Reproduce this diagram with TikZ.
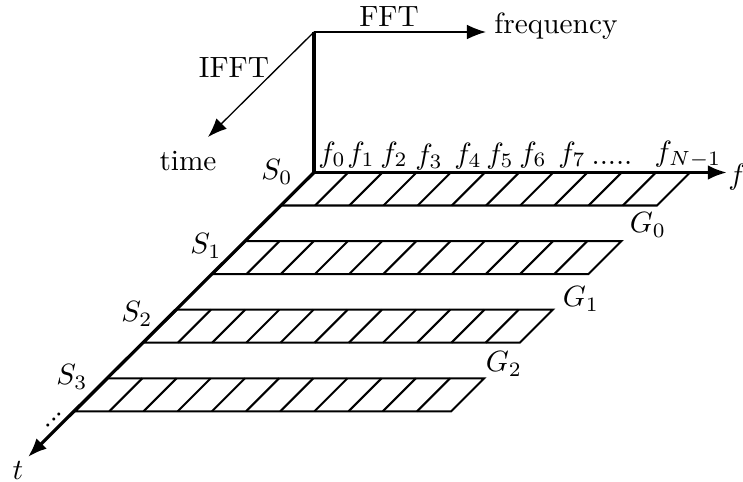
\documentclass[tikz,border=0pt]{standalone}
\usetikzlibrary{arrows.meta}
\begin{document}
\begin{tikzpicture}[x=0.012cm,y=-0.012cm,
  axis/.style={line width=1.1pt,-{Latex[length=6.5pt,width=5pt]}},
  thinarrow/.style={line width=0.45pt,-{Latex[length=6.5pt,width=5pt]}},
  stripline/.style={line width=0.7pt},
  lbl/.style={inner sep=0pt}]
\useasboundingbox (0,0) rectangle (743,482);
% coordinates
\coordinate (O) at (314,32);
\coordinate (O2) at (314,172.5);
\coordinate (fftend) at (486,32);
\coordinate (ifftend) at (208,137);
\coordinate (fend) at (727,172.5);
\coordinate (tend) at (28,457);
% strips
\foreach \k in {0,...,3}{
  \begin{scope}[shift={(-68.6*\k,68.6*\k)}]
    \draw[stripline] (314,172.5) -- ++(376,0) -- ++(-33,33) -- ++(-376,0) -- cycle;
    \foreach \i in {1,...,10}{
      \draw[stripline] (281+\i*34.18,205.5) -- ++(33,-33);
    }
  \end{scope}
}
% axes
\draw[line width=1.1pt] (O) -- (O2);
\draw[thinarrow] (O) -- (fftend);
\draw[thinarrow] (O) -- (ifftend);
\draw[axis] (O2) -- (fend);
\draw[axis] (O2) -- (tend);
% top labels
\node[lbl] (fft) at (389,17) {FFT};
\node[lbl] (ifft) at (234,67) {IFFT};
\node[lbl] (freq) at (556,26) {frequency};
\node[lbl] (time) at (188,161) {time};
% axis labels
\node[lbl] (flab) at (737,177) {$f$};
\node[lbl] (tlab) at (18,470) {$t$};
\node[lbl,rotate=45] (tdots) at (54,420) {...};
% frequency labels
\node[lbl,anchor=base] (f0) at (332,162) {$f_0$};
\node[lbl,anchor=base] (f1) at (361,162) {$f_1$};
\node[lbl,anchor=base] (f2) at (394,162) {$f_2$};
\node[lbl,anchor=base] (f3) at (429,164) {$f_3$};
\node[lbl,anchor=base] (f4) at (468,163.5) {$f_4$};
\node[lbl,anchor=base] (f5) at (500,163) {$f_5$};
\node[lbl,anchor=base] (f6) at (533,162) {$f_6$};
\node[lbl,anchor=base] (f7) at (572,162) {$f_7$};
\node[lbl,anchor=base] (fdots) at (612,164.5) {.....};
\node[lbl,anchor=base] (fN) at (688,161) {$f_{N-1}$};
% S labels
\node[lbl] (S0) at (277,172) {$S_0$};
\node[lbl] (S1) at (206,246) {$S_1$};
\node[lbl] (S2) at (137,314) {$S_2$};
\node[lbl] (S3) at (72,377) {$S_3$};
% G labels
\node[lbl] (G0) at (648,225) {$G_0$};
\node[lbl] (G1) at (581,299) {$G_1$};
\node[lbl] (G2) at (504,364) {$G_2$};
\end{tikzpicture}
\end{document}
